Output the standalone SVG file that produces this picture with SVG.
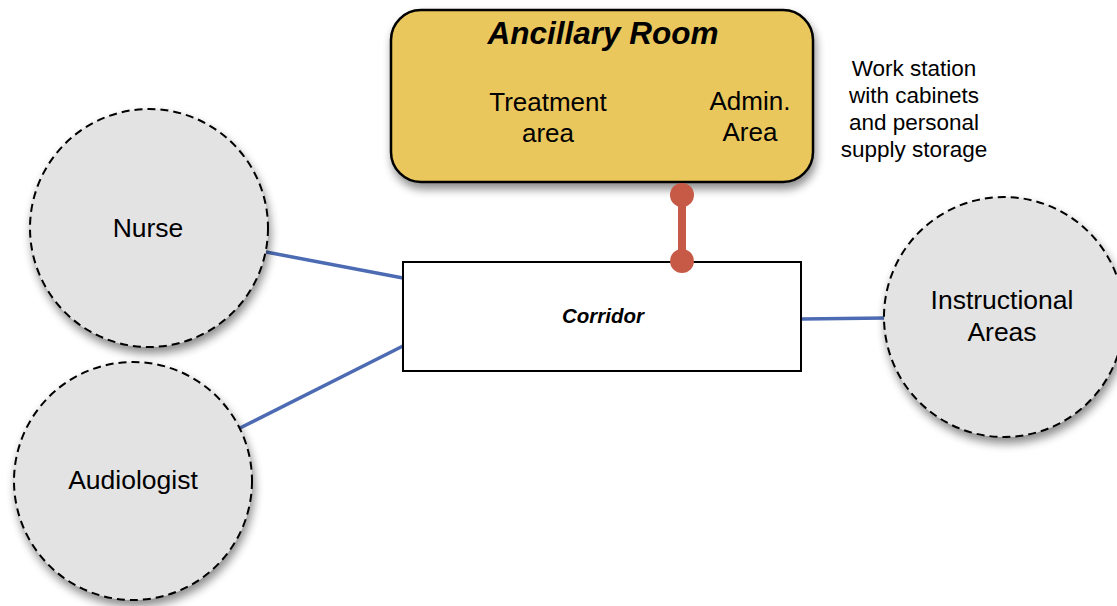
<svg xmlns="http://www.w3.org/2000/svg" width="1117" height="606" viewBox="0 0 1117 606">
  <defs>
    <filter id="shadow" x="-20%" y="-20%" width="140%" height="150%">
      <feGaussianBlur in="SourceAlpha" stdDeviation="5"/>
      <feOffset dx="2" dy="6" result="b"/>
      <feComponentTransfer><feFuncA type="linear" slope="0.45"/></feComponentTransfer>
      <feMerge><feMergeNode/><feMergeNode in="SourceGraphic"/></feMerge>
    </filter>
  </defs>
  <style>
    text { font-family: "Liberation Sans", Arial, sans-serif; fill: #000; text-anchor: middle; }
    .person { fill: #e3e3e3; stroke: #000; stroke-width: 2; stroke-dasharray: 8 5; }
    .lbl { font-size: 26.5px; }
    .inner { font-size: 26px; }
    .note { font-size: 22.5px; }
    .link { stroke: #4c6bb3; stroke-width: 3.5; fill: none; }
    .tie { stroke: #c65a47; stroke-width: 8; }
    .knob { fill: #c65a47; }
  </style>
  <rect width="1117" height="606" fill="#fff"/>

  <g id="connectors">
    <line class="link" x1="266" y1="252" x2="403" y2="278"/>
    <line class="link" x1="240" y1="428" x2="403" y2="346"/>
    <line class="link" x1="801" y1="319" x2="886" y2="318"/>
  </g>

  <g id="ancillary-room">
    <rect x="391" y="10" width="422" height="172" rx="30" ry="30" fill="#e9c75c" stroke="#000" stroke-width="2.5" filter="url(#shadow)"/>
    <text x="603" y="44" font-size="31.5" font-weight="bold" font-style="italic">Ancillary Room</text>
    <text class="inner" x="548" y="111">Treatment</text>
    <text class="inner" x="548" y="142">area</text>
    <text class="inner" x="750" y="110">Admin.</text>
    <text class="inner" x="750" y="141">Area</text>
  </g>

  <g id="work-station-note">
    <text class="note" x="914" y="76">Work station</text>
    <text class="note" x="914" y="103">with cabinets</text>
    <text class="note" x="914" y="130">and personal</text>
    <text class="note" x="914" y="157">supply storage</text>
  </g>

  <g id="corridor">
    <rect x="403" y="262" width="398" height="109" fill="#fff" stroke="#000" stroke-width="2"/>
    <text x="603" y="323" font-size="20.5" font-weight="bold" font-style="italic">Corridor</text>
  </g>

  <g id="ancillary-corridor-link">
    <line class="tie" x1="682" y1="195" x2="682" y2="261"/>
    <circle class="knob" cx="682" cy="195" r="12"/>
    <circle class="knob" cx="682" cy="261" r="12"/>
  </g>

  <g id="nurse">
    <circle class="person" cx="149" cy="228" r="119" filter="url(#shadow)"/>
    <text class="lbl" x="148" y="237">Nurse</text>
  </g>

  <g id="audiologist">
    <circle class="person" cx="133" cy="481" r="119" filter="url(#shadow)"/>
    <text class="lbl" x="133" y="489">Audiologist</text>
  </g>

  <g id="instructional-areas">
    <circle class="person" cx="1004" cy="317" r="120" filter="url(#shadow)"/>
    <text class="lbl" x="1002" y="309">Instructional</text>
    <text class="lbl" x="1002" y="341">Areas</text>
  </g>
</svg>
